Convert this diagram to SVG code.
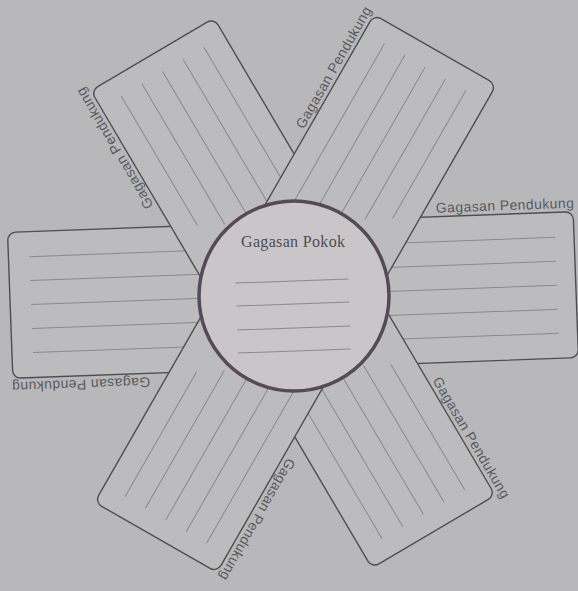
<svg xmlns="http://www.w3.org/2000/svg" width="578" height="591" viewBox="0 0 578 591">
<defs>
<style>
.bg{fill:#b8b8ba}
.band{fill:#bcbcbe;stroke:#4f4f52;stroke-width:1.4}
.ln{stroke:#8a8a8d;stroke-width:1;fill:none}
.lbl{font-family:"Liberation Sans",Arial,sans-serif;font-size:14px;fill:#5a5a5d}
.ttl{font-family:"Liberation Serif","Times New Roman",serif;font-size:16px;fill:#4e4e52}
</style>
<clipPath id="outA"><path clip-rule="evenodd" d="M-50,-50H630V650H-50Z M7.5,232.4L573.1,211.7L578.5,357.5L12.9,378.4Z"/></clipPath>
</defs>
<rect class="bg" x="0" y="0" width="578" height="591"/>
<g id="band-a">
<rect class="band" transform="translate(293,295) rotate(-2.1)" x="-283" y="-73" width="566" height="146" rx="8"/>
<path class="ln" transform="translate(293,295) rotate(-2.1)" d="M-262,-48H264M-262,-24H264M-262,0H264M-262,24H264M-262,48H264"/>
</g>
<g id="band-b">
<rect class="band" transform="translate(293,293) rotate(59.5)" x="-277" y="-71.5" width="554" height="143" rx="8"/>
<g clip-path="url(#outA)">
<path class="ln" transform="translate(293,293) rotate(59.5)" d="M-257,-48H257M-257,-24H257M-257,0H257M-257,24H257M-257,48H257"/>
</g>
</g>
<g id="band-c">
<rect class="band" transform="translate(295.5,293.5) rotate(119.8)" x="-281" y="-70.5" width="562" height="141" rx="8"/>
<g clip-path="url(#outA)">
<path class="ln" transform="translate(295.5,293.5) rotate(119.8)" d="M-261,-47H261M-261,-23.5H261M-261,0H261M-261,23.5H261M-261,47H261"/>
</g>
</g>
<g id="center-node">
<circle cx="294" cy="296" r="95" fill="#c9c5c9" stroke="#574a57" stroke-width="3.5"/>
<text class="ttl" x="293" y="247" text-anchor="middle" textLength="104">Gagasan Pokok</text>
<path class="ln" transform="rotate(-2 294 296)" d="M236,281H349M236,304H349M236,328H349M236,351H349"/>
</g>
<g id="connectors"></g>
<g id="labels">
<text id="label-right" class="lbl" transform="translate(293,295) rotate(-2.1)" x="146" y="-77" textLength="138">Gagasan Pendukung</text>
<text id="label-left" class="lbl" transform="translate(293,295) rotate(177.9)" x="146" y="-77" textLength="138">Gagasan Pendukung</text>
<text id="label-lower-right" class="lbl" transform="translate(293,293) rotate(59.5)" x="146" y="-75.5" textLength="138">Gagasan Pendukung</text>
<text id="label-upper-left" class="lbl" transform="translate(293,293) rotate(239.5)" x="146" y="-75.5" textLength="138">Gagasan Pendukung</text>
<text id="label-lower-left" class="lbl" transform="translate(295.5,293.5) rotate(119.8)" x="146" y="-74.5" textLength="138">Gagasan Pendukung</text>
<text id="label-upper-right" class="lbl" transform="translate(295.5,293.5) rotate(299.8)" x="146" y="-74.5" textLength="138">Gagasan Pendukung</text>
</g>
</svg>
